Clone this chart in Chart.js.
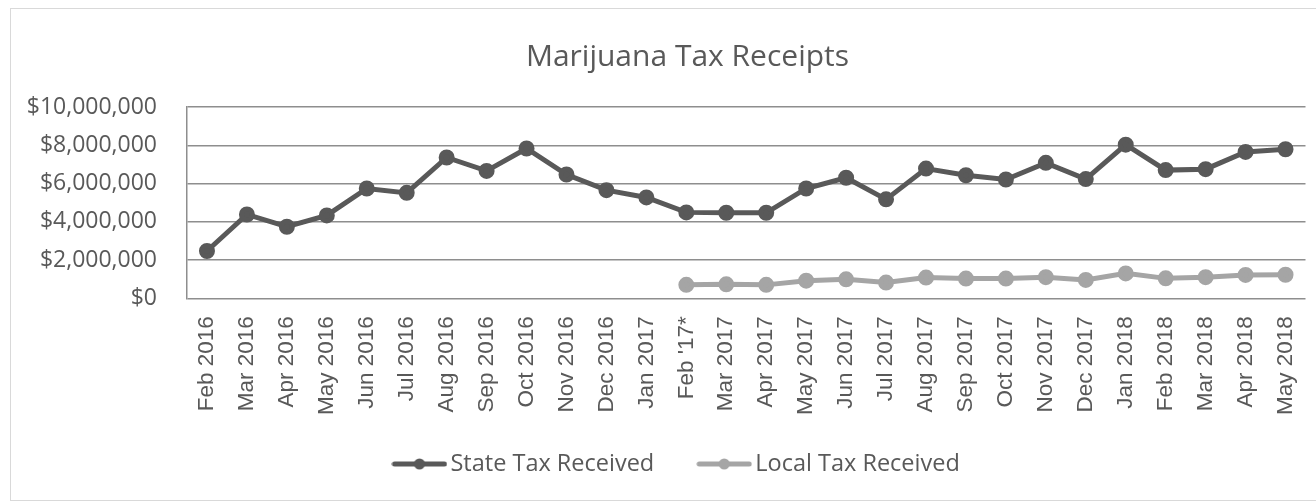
<!DOCTYPE html>
<html>
<head>
<meta charset="utf-8">
<title>Marijuana Tax Receipts</title>
<script src="https://cdn.jsdelivr.net/npm/chart.js@4/dist/chart.umd.min.js"></script>
<style>
  html, body { margin: 0; padding: 0; background: #fff; }
  #frame { position: absolute; left: 10px; top: 8px; width: 1305px; height: 491px; border: 1px solid #d9d9d9; }
  #chart { position: absolute; left: 0; top: 0; }
</style>
</head>
<body>
<div id="frame"></div>
<canvas id="chart" width="1316" height="502"></canvas>
<script>
// months on the x axis
const months = ['Feb 2016', 'Mar 2016', 'Apr 2016', 'May 2016', 'Jun 2016', 'Jul 2016',
  'Aug 2016', 'Sep 2016', 'Oct 2016', 'Nov 2016', 'Dec 2016', 'Jan 2017', "Feb '17*",
  'Mar 2017', 'Apr 2017', 'May 2017', 'Jun 2017', 'Jul 2017', 'Aug 2017', 'Sep 2017',
  'Oct 2017', 'Nov 2017', 'Dec 2017', 'Jan 2018', 'Feb 2018', 'Mar 2018', 'Apr 2018', 'May 2018'];

// dollars received each month
const stateTax = [2470000, 4380000, 3740000, 4330000, 5740000, 5510000, 7360000, 6660000,
  7830000, 6470000, 5650000, 5270000, 4490000, 4470000, 4470000, 5740000, 6300000, 5170000,
  6780000, 6430000, 6210000, 7080000, 6230000, 8030000, 6700000, 6750000, 7650000, 7790000];

// local tax only starts in Feb '17
const localTax = [null, null, null, null, null, null, null, null, null, null, null, null,
  700000, 730000, 700000, 920000, 990000, 820000, 1080000, 1030000, 1030000, 1100000,
  960000, 1300000, 1040000, 1100000, 1220000, 1230000];

const yTicks = [0, 2000000, 4000000, 6000000, 8000000, 10000000];

const textColor = '#595959';
const gridColor = '#8e8e8e';
const sansFont = "'Open Sans', sans-serif";

// little line-with-dot marker for the legend
const legendMarker = (color) => {
  const c = document.createElement('canvas');
  c.width = 56;
  c.height = 14;
  const ctx = c.getContext('2d');
  ctx.strokeStyle = color;
  ctx.lineWidth = 5;
  ctx.lineCap = 'round';
  ctx.beginPath();
  ctx.moveTo(3, 7);
  ctx.lineTo(53, 7);
  ctx.stroke();
  ctx.fillStyle = color;
  ctx.beginPath();
  ctx.arc(28, 7, 5.5, 0, Math.PI * 2);
  ctx.fill();
  return c;
};

// move title and legend a bit right of the canvas centre, legend up under the labels
const nudgeBlocks = {
  id: 'nudgeBlocks',
  afterLayout(chart) {
    const t = chart.titleBlock;
    t.left += 34;
    t.right += 34;
    const l = chart.legend;
    l.left += 26.5;
    l.right += 26.5;
    const h = l.height;
    l.top = 401.5;
    l.bottom = l.top + h;
  }
};

const data = {
  labels: months,
  datasets: [{
    label: 'State Tax Received',
    data: stateTax,
    borderColor: '#595959',
    backgroundColor: '#595959',
    borderWidth: 5,
    pointRadius: 5.5,
    pointHoverRadius: 5.5,
    tension: 0
  }, {
    label: 'Local Tax Received',
    data: localTax,
    borderColor: '#a5a5a5',
    backgroundColor: '#a5a5a5',
    borderWidth: 5,
    pointRadius: 5.5,
    pointHoverRadius: 5.5,
    tension: 0,
    spanGaps: false
  }]
};

const config = {
  type: 'line',
  data: data,
  plugins: [nudgeBlocks],
  options: {
    responsive: false,
    animation: false,
    devicePixelRatio: 1,
    layout: { padding: { left: 0, right: 9, top: 0, bottom: 3.5 } },
    plugins: {
      title: {
        display: true,
        text: 'Marijuana Tax Receipts',
        color: textColor,
        font: { family: sansFont, size: 30, weight: 'normal', lineHeight: 1.2 },
        padding: { top: 39, bottom: 32 }
      },
      legend: {
        position: 'bottom',
        labels: {
          color: textColor,
          font: { family: sansFont, size: 23.5 },
          usePointStyle: true,
          pointStyleWidth: 38.5,
          padding: 50.75,
          generateLabels: (chart) => {
            const items = Chart.defaults.plugins.legend.labels.generateLabels(chart);
            items.forEach((item) => {
              item.pointStyle = legendMarker(chart.data.datasets[item.datasetIndex].borderColor);
            });
            return items;
          }
        }
      },
      tooltip: { enabled: false }
    },
    scales: {
      x: {
        offset: true,
        grid: { display: false, drawTicks: false },
        border: { display: false },
        ticks: {
          color: textColor,
          font: { family: "'Liberation Sans', Arial, sans-serif", size: 22.5 },
          minRotation: 90,
          maxRotation: 90,
          autoSkip: false,
          padding: 18
        },
        afterFit: (scale) => {
          scale.height = 116;
          // the vertical labels are narrow, no side room needed
          scale.paddingLeft = 0;
          scale.paddingRight = 0;
        }
      },
      y: {
        min: 0,
        max: 10000000,
        afterBuildTicks: (scale) => { scale.ticks = yTicks.map((v) => ({ value: v })); },
        grid: { color: gridColor, lineWidth: 1.5, drawTicks: false },
        border: { display: true, color: gridColor, width: 1.5 },
        ticks: {
          color: textColor,
          font: { family: sansFont, size: 23 },
          padding: 30,
          callback: (value) => '$' + Number(value).toLocaleString('en-US')
        },
        afterFit: (scale) => { scale.width = 187; }
      }
    }
  }
};

new Chart(document.querySelector('#chart'), config);
</script>
</body>
</html>
